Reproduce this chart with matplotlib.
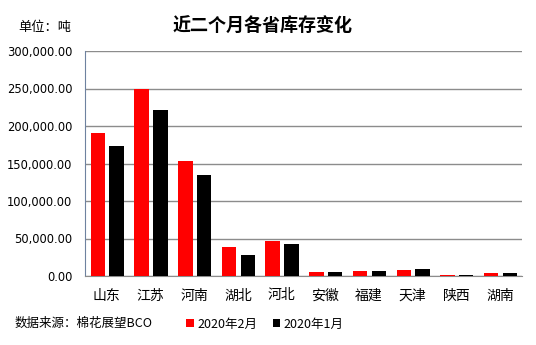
import numpy as np
import matplotlib
matplotlib.use('Agg')
import matplotlib.pyplot as plt
from matplotlib.ticker import FuncFormatter

plt.rcParams['font.family'] = ['Noto Sans CJK SC', 'DejaVu Sans']

provinces = ['山东', '江苏', '河南', '湖北', '河北', '安徽', '福建', '天津', '陕西', '湖南']
feb_2020 = [190300, 249300, 153300, 38700, 46700, 5300, 6700, 8000, 1500, 4000]
jan_2020 = [173300, 221300, 134700, 28000, 43000, 5300, 6700, 9300, 1000, 4000]
series_labels = ['2020年2月', '2020年1月']

fig = plt.figure(figsize=(5.36, 3.45), dpi=100)
ax = fig.add_axes([85 / 536, 1 - 276 / 345, (522 - 85) / 536, (276 - 51) / 345])

x = np.arange(len(provinces))
w = 0.33
ax.bar(x - 0.205, feb_2020, width=w, color='#ff0000', label=series_labels[0], zorder=3)
ax.bar(x + 0.225, jan_2020, width=w, color='#000000', label=series_labels[1], zorder=3)

ax.set_xlim(-0.5, len(provinces) - 0.5)
ax.set_ylim(0, 300000)
ax.set_yticks(np.arange(0, 300001, 50000))
ax.yaxis.set_major_formatter(FuncFormatter(lambda v, p: f'{v:,.2f}'))
ax.set_xticks(x)
ax.set_xticklabels(provinces, fontsize=10)
ax.tick_params(axis='both', length=0)
ax.tick_params(axis='y', labelsize=8.3, pad=9)
ax.tick_params(axis='x', pad=9)
for lbl in ax.get_yticklabels():
    lbl.set_family('DejaVu Sans')

ax.grid(axis='y', color='#8c8c8c', linewidth=1, zorder=0)
ax.spines['top'].set_visible(False)
ax.spines['right'].set_visible(False)
ax.spines['left'].set_color('#6e82a0')
ax.spines['bottom'].set_color('#8c8c8c')

fig.text(0.5 * (170 + 355) / 536, 1 - 26 / 345, '近二个月各省库存变化', ha='center', va='center',
         fontsize=13, fontweight='bold')
fig.text(18 / 536, 1 - 27 / 345, '单位：吨', ha='left', va='center', fontsize=9.5)
fig.text(15 / 536, 1 - 323 / 345, '数据来源：棉花展望BCO', ha='left', va='center', fontsize=9)

ax.legend(loc='center', bbox_to_anchor=(265 / 536, 1 - 324 / 345), bbox_transform=fig.transFigure,
          ncol=2, frameon=False, fontsize=9, handlelength=0.6, handleheight=0.6,
          handletextpad=0.3, columnspacing=1.2)

fig.savefig('out.png', dpi=100)
